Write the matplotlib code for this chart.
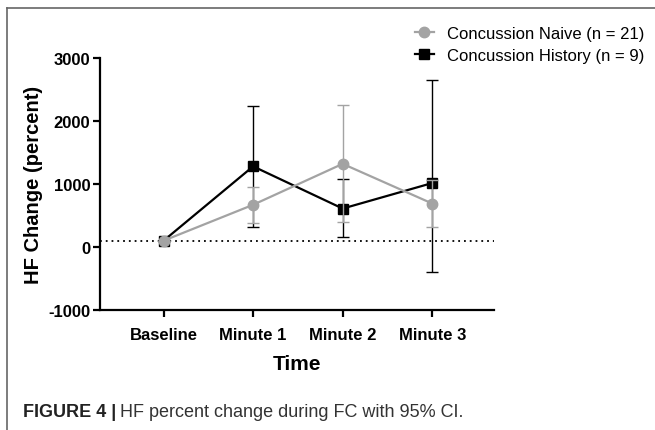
#!/usr/bin/env python3
"""HF percent change during FC with 95% CI (Figure 4)."""

import matplotlib
matplotlib.use("Agg")
import matplotlib.pyplot as plt
from matplotlib.lines import Line2D
import numpy as np

plt.rcParams['font.family'] = ['Liberation Sans', 'DejaVu Sans']
plt.rcParams['axes.unicode_minus'] = False

time_labels = ['Baseline', 'Minute 1', 'Minute 2', 'Minute 3']

# Concussion naive (n = 21): mean, lower CI, upper CI
naive_mean = [100, 670, 1320, 690]
naive_low = [100, 380, 390, 325]
naive_high = [100, 960, 2250, 1060]

# Concussion history (n = 9)
hist_mean = [100, 1280, 610, 1015]
hist_low = [100, 325, 155, -400]
hist_high = [100, 2240, 1080, 2650]

reference_level = 100

grey = '#a3a3a3'
black = '#000000'


def main():
    fig = plt.figure(figsize=(6.55, 4.31), dpi=100)
    ax = fig.add_axes([100 / 655, 1 - 311 / 431, 394 / 655, 252 / 431])

    x = np.arange(len(time_labels))

    # history first so the naive series sits on top
    hm = np.array(hist_mean)
    ax.errorbar(x, hm, yerr=[hm - np.array(hist_low), np.array(hist_high) - hm],
                color=black, ecolor=black, elinewidth=1.0, capsize=4, capthick=1.0,
                lw=1.6, marker='s', markersize=7, zorder=3)
    nm = np.array(naive_mean)
    ax.errorbar(x, nm, yerr=[nm - np.array(naive_low), np.array(naive_high) - nm],
                color=grey, ecolor=grey, elinewidth=1.0, capsize=4, capthick=1.0,
                lw=1.6, marker='o', markersize=7.5, zorder=4)

    ax.axhline(reference_level, color='black', lw=1.3, ls=(0, (1, 2.2)), zorder=2)

    ax.set_xlim(-0.71, 3.69)
    ax.set_ylim(-1000, 3000)
    ax.set_yticks([-1000, 0, 1000, 2000, 3000])
    ax.set_xticks(x)
    ax.set_xticklabels(time_labels)

    for side in ['top', 'right']:
        ax.spines[side].set_visible(False)
    for side in ['left', 'bottom']:
        ax.spines[side].set_linewidth(1.6)
    ax.tick_params(width=1.6, length=5, labelsize=12)
    ax.tick_params(axis='x', pad=7)
    ax.tick_params(axis='y', pad=2)
    for lab in ax.get_xticklabels() + ax.get_yticklabels():
        lab.set_fontweight('bold')

    ax.set_xlabel('Time', fontsize=15, fontweight='bold', labelpad=9)
    ax.set_ylabel('HF Change (percent)', fontsize=14.5, fontweight='bold', labelpad=4)

    handles = [
        Line2D([], [], color=grey, lw=1.6, marker='o', markersize=7.5),
        Line2D([], [], color=black, lw=1.6, marker='s', markersize=7),
    ]
    fig.legend(handles, ['Concussion Naive (n = 21)', 'Concussion History (n = 9)'],
               loc='upper left', bbox_to_anchor=(408 / 655, 1 - 20 / 431),
               frameon=False, fontsize=12, handlelength=1.15, handletextpad=0.8,
               labelspacing=0.45, borderaxespad=0)

    # caption
    cap = fig.text(23 / 655, 1 - 413 / 431, 'FIGURE 4 |', fontsize=13,
                   fontweight='bold', va='center', ha='left', color='#222222')
    fig.canvas.draw()
    bb = cap.get_window_extent()
    fig.text(bb.x1 / fig.bbox.width + 4 / 655, 1 - 413 / 431,
             'HF percent change during FC with 95% CI.', fontsize=13,
             va='center', ha='left', color='#333333')

    # frame lines (top and left)
    fig.add_artist(Line2D([7 / 655, 1], [1 - 9 / 431] * 2, color='#666666', lw=1.2))
    fig.add_artist(Line2D([7 / 655] * 2, [0, 1 - 9 / 431], color='#666666', lw=1.2))

    fig.savefig('out.png', dpi=100)
    plt.close(fig)


if __name__ == '__main__':
    main()
